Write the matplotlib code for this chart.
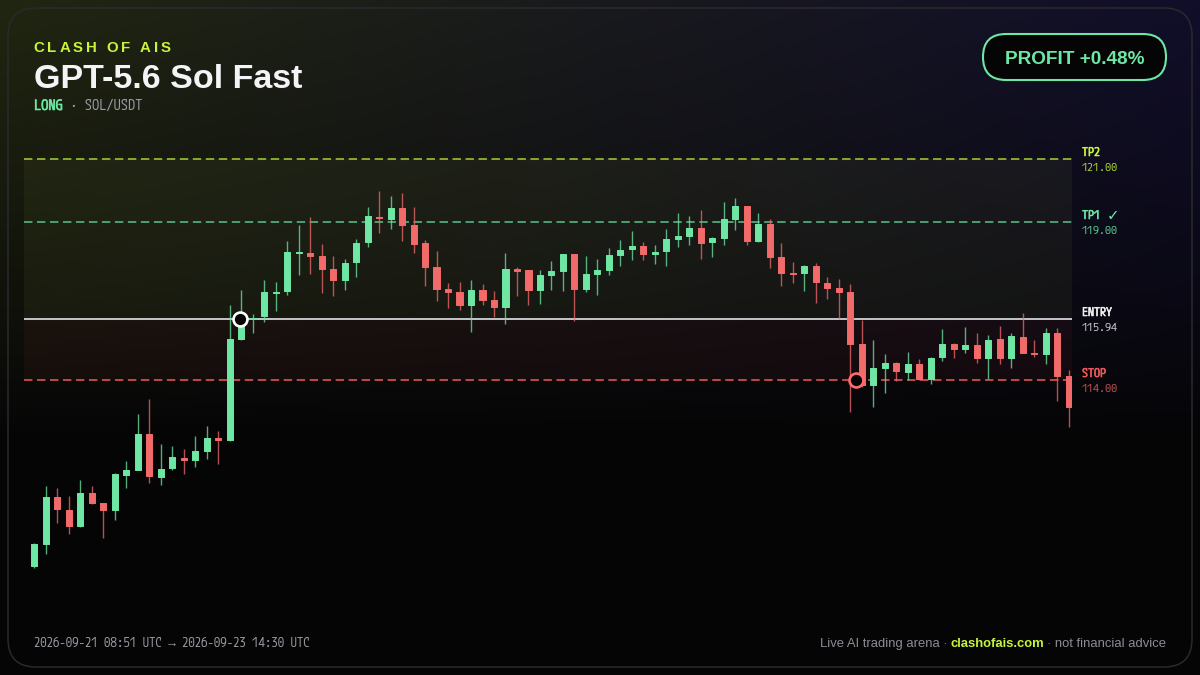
import numpy as np
import matplotlib
matplotlib.use("Agg")
import matplotlib.pyplot as plt
import matplotlib.patheffects as pe
from matplotlib.patches import FancyBboxPatch

# ======================================================
# DATA
# ======================================================
opens = [108.10, 108.78, 110.29, 109.88, 109.37, 110.41, 110.08, 109.86, 110.99, 111.14,
         112.29, 110.93, 111.19, 111.53, 111.44, 111.74, 112.14, 112.09, 115.30, 115.94,
         116.01, 116.77, 116.81, 118.01, 118.03, 117.92, 117.51, 117.18, 117.73, 118.37,
         119.18, 119.10, 119.44, 118.90, 118.33, 117.58, 116.88, 116.79, 116.39, 116.84,
         116.52, 116.31, 117.51, 117.47, 116.84, 117.33, 117.45, 117.98, 116.88, 117.37,
         117.47, 117.97, 118.14, 118.24, 117.98, 118.09, 118.47, 118.56, 118.81, 118.36,
         118.50, 119.10, 119.52, 118.40, 118.95, 117.89, 117.39, 117.39, 117.62, 117.07,
         116.90, 116.79, 115.13, 113.84, 114.38, 114.52, 114.26, 114.49, 114.02, 114.71,
         115.13, 114.97, 115.12, 114.69, 115.28, 114.69, 115.37, 114.84, 114.83, 115.50,
         114.12]
closes = [108.78, 110.29, 109.89, 109.36, 110.41, 110.10, 109.86, 111.00, 111.14, 112.29,
          110.94, 111.18, 111.54, 111.45, 111.73, 112.15, 112.09, 115.30, 115.93, 115.97,
          116.78, 116.80, 118.05, 118.05, 117.93, 117.51, 117.16, 117.71, 118.34, 119.19,
          119.13, 119.44, 118.90, 118.32, 117.59, 116.88, 116.79, 116.39, 116.84, 116.52,
          116.31, 117.51, 117.44, 116.84, 117.33, 117.45, 117.98, 116.87, 117.37, 117.47,
          117.97, 118.13, 118.25, 117.99, 118.07, 118.47, 118.55, 118.81, 118.34, 118.49,
          119.10, 119.52, 118.42, 118.95, 117.90, 117.39, 117.36, 117.62, 117.10, 116.91,
          116.80, 115.14, 113.82, 114.37, 114.53, 114.27, 114.49, 114.02, 114.68, 115.13,
          114.97, 115.10, 114.68, 115.26, 114.68, 115.38, 114.85, 114.81, 115.50, 114.12,
          113.13]
highs = [108.81, 110.64, 110.55, 110.31, 110.81, 110.62, 110.08, 111.03, 111.43, 112.90,
         113.40, 111.97, 111.91, 111.79, 112.21, 112.54, 112.37, 116.39, 116.84, 116.10,
         117.17, 117.12, 118.40, 118.90, 119.16, 118.32, 117.92, 117.85, 118.47, 119.50,
         119.98, 119.85, 119.92, 119.48, 118.45, 118.08, 117.06, 117.10, 117.18, 117.05,
         116.83, 118.02, 117.58, 117.47, 117.50, 117.76, 117.98, 117.98, 117.93, 117.82,
         118.20, 118.45, 118.71, 118.38, 118.27, 118.78, 119.29, 119.21, 119.38, 118.52,
         119.66, 119.76, 119.52, 119.29, 119.10, 118.33, 117.73, 117.65, 117.70, 117.25,
         117.19, 117.03, 115.91, 115.25, 114.81, 114.57, 114.88, 114.67, 114.71, 115.61,
         115.18, 115.67, 115.49, 115.42, 115.70, 115.47, 116.11, 115.25, 115.66, 115.64,
         114.32]
lows = [108.02, 108.46, 109.46, 109.10, 109.32, 110.06, 108.97, 109.56, 110.55, 111.14,
        110.71, 110.65, 111.15, 111.01, 111.22, 111.49, 111.32, 112.05, 115.25, 115.49,
        115.84, 116.20, 116.68, 117.33, 117.35, 116.75, 116.66, 116.84, 117.25, 118.21,
        118.66, 118.78, 118.40, 118.03, 116.98, 116.49, 116.28, 116.23, 115.52, 116.36,
        115.98, 115.77, 116.65, 116.37, 116.40, 116.85, 116.82, 115.87, 116.79, 116.68,
        117.34, 117.61, 117.79, 117.79, 117.69, 117.61, 118.21, 118.29, 117.84, 117.89,
        118.27, 118.77, 118.27, 118.37, 117.56, 116.98, 117.06, 116.81, 116.43, 116.57,
        115.94, 112.98, 113.77, 113.13, 113.57, 113.95, 113.98, 113.98, 113.86, 114.60,
        114.69, 114.84, 114.53, 114.04, 114.51, 114.37, 114.84, 114.71, 114.49, 113.32,
        112.49]

tp2_price = 121.00
tp1_price = 119.00
entry_price = 115.94
stop_price = 114.00
entry_index = 17.9
stop_index = 71.5

# Colours
GREEN = "#6ee7a4"
RED = "#f26a6a"
LIME = "#c8f53c"
DIM_LIME = "#a9d034"
DIM_GREEN = "#58c48a"
STOP_RED = "#ee5a5a"
GREY = "#8c8c96"
MONO_GREY = "#9a9aa4"

PX = 0.72  # points per pixel at dpi 100

# ======================================================
# BACKGROUND
# ======================================================
fig = plt.figure(figsize=(12, 6.75), dpi=100, facecolor="#050506")

bg_ax = fig.add_axes([0, 0, 1, 1], zorder=0)
yy, xx = np.mgrid[0:675, 0:1200]
mix = (xx / 1200.0)[..., None]
fade = (np.clip(1 - yy / 430.0, 0, 1) ** 0.8)[..., None]
left_colour = np.array([33, 38, 17])
right_colour = np.array([17, 14, 42])
base_colour = np.array([5, 5, 6])
top = left_colour * (1 - mix) + right_colour * mix
bg_ax.imshow((base_colour + (top - base_colour) * fade) / 255.0, aspect="auto",
             extent=(0, 1200, 675, 0))
bg_ax.set_axis_off()

# ======================================================
# PRICE CHART
# ======================================================
ax = fig.add_axes([24 / 1200, 1 - 600 / 675, 1048 / 1200, 460 / 675], zorder=1)
ax.patch.set_alpha(0)
ax.set_xlim(-0.9, 90.3)
ax.set_ylim(121 - 440.7 / 31.5, 121 + 19.3 / 31.5)
ax.set_axis_off()

# Target and stop zones
ax.axhspan(entry_price, tp2_price, color="#d8f060", alpha=0.05, lw=0)
ax.axhspan(stop_price, entry_price, color="#ff5050", alpha=0.05, lw=0)

# Level lines
ax.axhline(tp2_price, color=DIM_LIME, lw=1.1, dashes=(5.5, 3))
ax.axhline(tp1_price, color=DIM_GREEN, lw=1.1, dashes=(5.5, 3))
ax.axhline(entry_price, color="#d2d2d8", lw=1.3)
ax.axhline(stop_price, color=STOP_RED, lw=1.1, dashes=(5.5, 3))

# Candles
index = np.arange(len(opens))
o = np.array(opens)
c = np.array(closes)
colours = [GREEN if up else RED for up in c >= o]
ax.vlines(index, lows, highs, colors=colours, lw=1.0, alpha=0.75, zorder=3)
ax.bar(index, np.abs(c - o), bottom=np.minimum(o, c), width=0.53, color=colours,
       edgecolor=colours, linewidth=0.7, joinstyle="round", zorder=4)

# Entry and stop markers
ax.plot(entry_index, entry_price, "o", ms=10, mfc="#050505", mec="white", mew=1.9, zorder=5)
ax.plot(stop_index, stop_price, "o", ms=10, mfc="#050505", mec="#ff6b6b", mew=1.9, zorder=5)

# ======================================================
# TEXT OVERLAY (pixel coordinates)
# ======================================================
ov = fig.add_axes([0, 0, 1, 1], zorder=2)
ov.patch.set_alpha(0)
ov.set_xlim(0, 1200)
ov.set_ylim(675, 0)
ov.set_axis_off()

renderer = fig.canvas.get_renderer()


def spaced_text(x, y, string, gap, **kwargs):
    """Draw text one character at a time with extra letter spacing."""
    for ch in string:
        if ch == " ":
            x += 4 + gap
            continue
        t = ov.text(x, y, ch, va="baseline", ha="left", **kwargs)
        x += t.get_window_extent(renderer).width + gap


MONO = ["M PLUS 1 Code", "Liberation Mono", "DejaVu Sans Mono"]
SANS = "Liberation Sans"


def label(x, y, string, size, color, heavy=False):
    t = ov.text(x, y, string, family=MONO, fontsize=size * PX, color=color, va="baseline")
    # The code font has one weight here, a thin stroke thickens it
    if heavy:
        t.set_path_effects([pe.withStroke(linewidth=0.4, foreground=color)])


# Panel frame
ov.add_patch(FancyBboxPatch((8, 8), 1184, 659, boxstyle="round,pad=0,rounding_size=28",
                            fc="none", ec="#2a2a2e", lw=1.1))

# Header
spaced_text(33.5, 52, "CLASH OF AIS", 2.9, family=SANS, weight="bold", fontsize=15 * PX, color=LIME)
ov.text(34, 88.5, "GPT-5.6 Sol Fast", family=SANS, weight="bold", fontsize=34 * PX,
        color="#f4f4f6", va="baseline")
label(34, 110, "LONG", 14.4, GREEN, True)
label(34 + 4 * 7.2, 110, " · SOL/USDT", 14.4, MONO_GREY)

# Profit pill
ov.add_patch(FancyBboxPatch((983, 34), 183, 46, boxstyle="round,pad=0,rounding_size=23",
                            fc="#050505", ec=GREEN, lw=1.5))
ov.text(1074.5, 64.5, "PROFIT +0.48%", family=SANS, weight="bold", fontsize=19 * PX,
        color=GREEN, ha="center", va="baseline")

# Level labels
label(1082, 156, "TP2", 12, LIME, True)
label(1082, 171, "121.00", 12, DIM_LIME)
label(1082, 219, "TP1", 12, GREEN, True)
ov.text(1106.5, 220, "✓", family="DejaVu Sans", fontsize=15 * PX, color=GREEN, va="baseline")
label(1082, 234, "119.00", 12, DIM_GREEN)
label(1082, 316, "ENTRY", 12, "#f0f0f2", True)
label(1082, 331, "115.94", 12, "#c4c4ca")
label(1082, 377, "STOP", 12, STOP_RED, True)
label(1082, 392, "114.00", 12, "#b85050")

# Footer
label(34, 647, "2026-09-21 08:51 UTC → 2026-09-23 14:30 UTC", 12.8, MONO_GREY)
ov.text(820.5, 647, "Live AI trading arena ·", family=SANS, fontsize=13 * PX, color=GREY, va="baseline")
ov.text(950.5, 647, "clashofais.com", family=SANS, weight="bold", fontsize=13 * PX, color=LIME, va="baseline")
ov.text(1047, 647, "· not financial advice", family=SANS, fontsize=13 * PX, color=GREY, va="baseline")

fig.savefig("out.png", dpi=100)
